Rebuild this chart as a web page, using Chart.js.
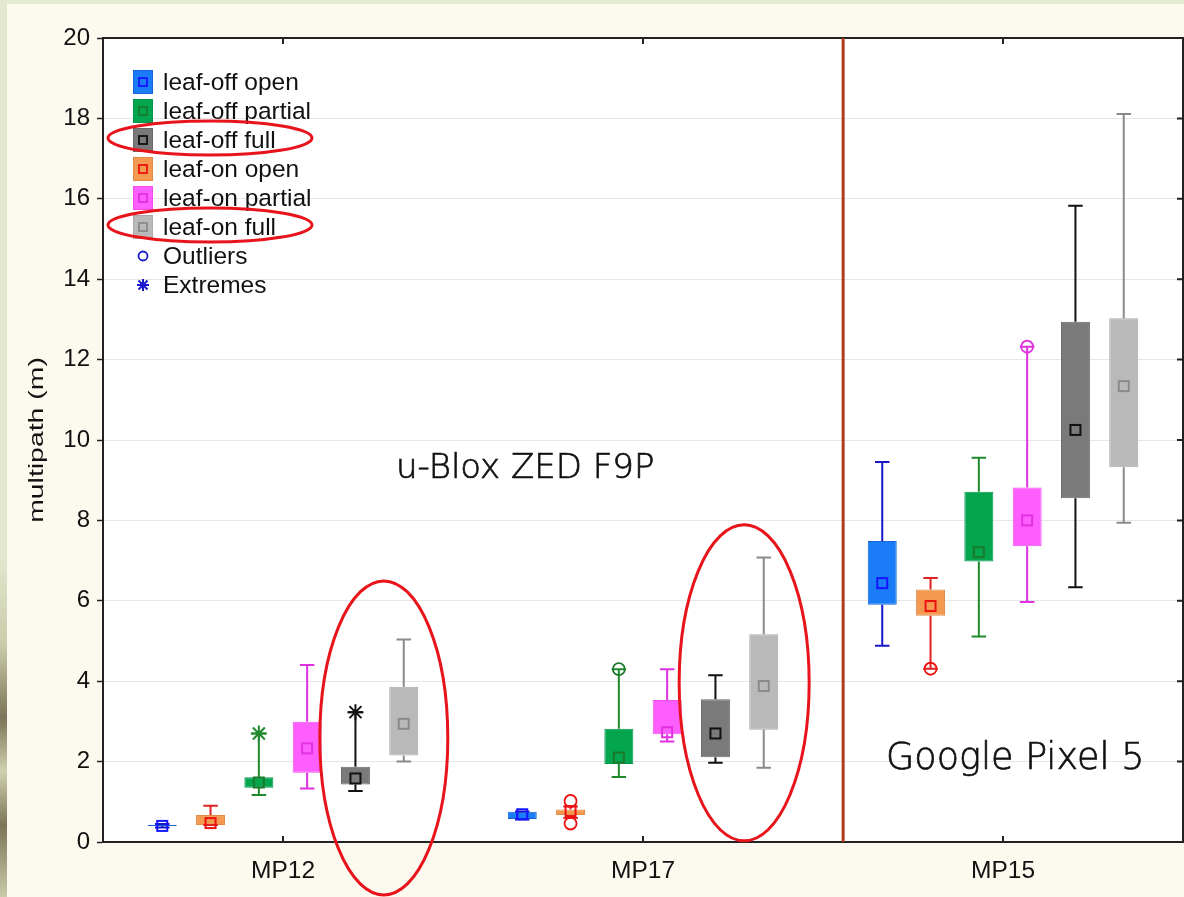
<!DOCTYPE html>
<html>
<head>
<meta charset="utf-8">
<title>multipath box plot</title>
<script src="https://cdn.jsdelivr.net/npm/chart.js@4.4.1/dist/chart.umd.min.js"></script>
<style>
  html, body { margin: 0; padding: 0; }
  body { width: 1184px; height: 897px; background: #fcf9ee; position: relative; overflow: hidden; }
  .edge-top { position: absolute; left: 0; top: 0; width: 1184px; height: 4px; background: #e4ead2; }
  .edge-left { position: absolute; left: 0; top: 0; width: 7px; height: 897px;
    background: linear-gradient(to bottom, #e2e8cf 0%, #e2e8cf 62%, #c9cba9 72%, #7c7458 80%, #cfd1ae 86%, #7c7458 92%, #c9cba9 100%); }
  canvas { position: absolute; left: 0; top: 0; }
</style>
</head>
<body>
<div class="edge-top"></div>
<div class="edge-left"></div>
<canvas id="boxChart" width="1184" height="897"></canvas>
<script>
// categories and series (left to right inside each group)
const categories = ['MP12', 'MP17', 'MP15'];
const seriesNames = ['leaf-off open', 'leaf-on open', 'leaf-off partial', 'leaf-on partial', 'leaf-off full', 'leaf-on full'];
const legendOrder = [0, 2, 4, 1, 3, 5]; // legend lists leaf-off first
const yTicks = [0, 2, 4, 6, 8, 10, 12, 14, 16, 18, 20];

// [min, q1, median, q3, max] per category
const leafOffOpen    = [[0.36, 0.40, 0.40, 0.42, 0.45], [0.56, 0.57, 0.69, 0.75, 0.76], [4.88, 5.90, 6.44, 7.49, 9.45]];
const leafOnOpen     = [[0.42, 0.42, 0.47, 0.67, 0.90], [0.60, 0.67, 0.77, 0.81, 0.88], [4.31, 5.63, 5.87, 6.28, 6.57]];
const leafOffPartial = [[1.17, 1.35, 1.48, 1.61, 2.70], [1.62, 1.94, 2.10, 2.82, 4.30], [5.11, 6.98, 7.21, 8.71, 9.56]];
const leafOnPartial  = [[1.33, 1.72, 2.33, 2.99, 4.40], [2.50, 2.68, 2.73, 3.53, 4.30], [5.97, 7.36, 8.00, 8.82, 12.32]];
const leafOffFull    = [[1.27, 1.43, 1.58, 1.87, 3.23], [1.97, 2.11, 2.70, 3.55, 4.15], [6.34, 8.55, 10.25, 12.94, 15.83]];
const leafOnFull     = [[2.00, 2.15, 2.94, 3.86, 5.04], [1.85, 2.79, 3.88, 5.17, 7.08], [7.94, 9.32, 11.34, 13.03, 18.11]];
const seriesStats = [leafOffOpen, leafOnOpen, leafOffPartial, leafOnPartial, leafOffFull, leafOnFull];

// [series, category, value]
const outlierPoints = [[1, 1, 1.02], [1, 1, 0.46], [2, 1, 4.30], [1, 2, 4.31], [3, 2, 12.32]];
const extremePoints = [[2, 0, 2.70], [4, 0, 3.23]];

// colours
const fillColors    = ['#1a7cf6', '#f39a50', '#03a64f', '#ff5eff', '#7a7a7a', '#b9b9b9'];
const borderColors  = ['#1466d8', '#e08a45', '#04944a', '#ee4cee', '#6a6a6a', '#a9a9a9'];
const whiskerColors = ['#1818c8', '#e02222', '#1f8a2c', '#e030e0', '#111111', '#8a8a8a'];
const markerColors  = ['#1515ff', '#ee1111', '#1a7a2a', '#e030e0', '#111111', '#8a8a8a'];

const FONT = '"Liberation Sans", Arial, sans-serif';
const yTitle = 'multipath (m)';

// annotations: [xValue (category units), yValue, text, font size] and ellipses [x, y, rx px, ry px]
const textMarks = [[0.673, 9.05, 'u-Blox ZED F9P', 34], [2.034, 1.82, 'Google Pixel 5', 36.5]];
const ellipseMarks = [[0.28, 2.59, 64, 157], [1.281, 3.96, 65, 158]];
const separatorAt = 1.556;
const highlightedLegend = ['leaf-off full', 'leaf-on full'];

function xAt(chart, v) {
  const x = chart.scales.x;
  const step = x.getPixelForValue(1) - x.getPixelForValue(0);
  const i = Math.floor(v);
  return x.getPixelForValue(i) + (v - i) * step;
}

function drawAsterisk(ctx, cx, cy, r) {
  ctx.beginPath();
  ctx.moveTo(cx - r, cy); ctx.lineTo(cx + r, cy);
  ctx.moveTo(cx, cy - r); ctx.lineTo(cx, cy + r);
  const d = r * 0.75;
  ctx.moveTo(cx - d, cy - d); ctx.lineTo(cx + d, cy + d);
  ctx.moveTo(cx - d, cy + d); ctx.lineTo(cx + d, cy - d);
  ctx.stroke();
}

const boxPlugin = {
  id: 'boxExtras',
  beforeDraw(chart) {
    const { ctx, chartArea: a } = chart;
    ctx.save();
    ctx.fillStyle = '#ffffff';
    ctx.fillRect(a.left, a.top, a.right - a.left, a.bottom - a.top);
    ctx.restore();
  },
  afterDatasetsDraw(chart) {
    const ctx = chart.ctx;
    const y = chart.scales.y;
    ctx.save();
    seriesStats.forEach((stats, s) => {
      const meta = chart.getDatasetMeta(s);
      meta.data.forEach((bar, c) => {
        const [lo, q1, med, q3, hi] = stats[c];
        const x = bar.x;
        const cap = bar.width * 0.25;
        ctx.strokeStyle = whiskerColors[s];
        ctx.lineWidth = 2;
        ctx.beginPath();
        ctx.moveTo(x, y.getPixelForValue(q3)); ctx.lineTo(x, y.getPixelForValue(hi));
        ctx.moveTo(x, y.getPixelForValue(q1)); ctx.lineTo(x, y.getPixelForValue(lo));
        ctx.moveTo(x - cap, y.getPixelForValue(hi)); ctx.lineTo(x + cap, y.getPixelForValue(hi));
        ctx.moveTo(x - cap, y.getPixelForValue(lo)); ctx.lineTo(x + cap, y.getPixelForValue(lo));
        ctx.stroke();
        ctx.strokeStyle = markerColors[s];
        ctx.strokeRect(x - 5, y.getPixelForValue(med) - 5, 10, 10);
      });
    });
    outlierPoints.forEach(([s, c, v]) => {
      const bar = chart.getDatasetMeta(s).data[c];
      ctx.strokeStyle = markerColors[s];
      ctx.lineWidth = 1.8;
      ctx.beginPath();
      ctx.arc(bar.x, y.getPixelForValue(v), 6, 0, Math.PI * 2);
      ctx.stroke();
    });
    extremePoints.forEach(([s, c, v]) => {
      const bar = chart.getDatasetMeta(s).data[c];
      ctx.strokeStyle = whiskerColors[s];
      ctx.lineWidth = 2;
      drawAsterisk(ctx, bar.x, y.getPixelForValue(v), 8);
    });
    ctx.restore();
  },
  afterDraw(chart) {
    const { ctx, chartArea: a } = chart;
    const y = chart.scales.y;
    ctx.save();
    // frame and inward ticks
    ctx.strokeStyle = '#222';
    ctx.lineWidth = 2;
    ctx.strokeRect(a.left, a.top, a.right - a.left, a.bottom - a.top);
    ctx.beginPath();
    categories.forEach((c, i) => {
      const px = chart.scales.x.getPixelForValue(i);
      ctx.moveTo(px, a.bottom); ctx.lineTo(px, a.bottom - 6);
      ctx.moveTo(px, a.top); ctx.lineTo(px, a.top + 6);
    });
    yTicks.forEach(t => {
      const py = y.getPixelForValue(t);
      ctx.moveTo(a.right, py); ctx.lineTo(a.right - 6, py);
    });
    ctx.stroke();

    // y axis title, drawn a little stretched like the original export
    ctx.save();
    ctx.translate(37, (a.top + a.bottom) / 2);
    ctx.rotate(-Math.PI / 2);
    ctx.scale(1.42, 1);
    ctx.fillStyle = '#111';
    ctx.font = '20px ' + FONT;
    ctx.textAlign = 'center';
    ctx.textBaseline = 'middle';
    ctx.fillText(yTitle, 0, 0);
    ctx.restore();

    // separator between receivers
    const sx = xAt(chart, separatorAt);
    ctx.strokeStyle = '#b03a1c';
    ctx.lineWidth = 3;
    ctx.beginPath();
    ctx.moveTo(sx, a.top); ctx.lineTo(sx, a.bottom);
    ctx.stroke();

    // receiver names
    ctx.fillStyle = '#111';
    ctx.strokeStyle = '#111';
    ctx.lineWidth = 0.7;
    ctx.textAlign = 'center';
    ctx.textBaseline = 'alphabetic';
    textMarks.forEach(([xv, yv, t, size]) => {
      ctx.font = '200 ' + size + 'px "DejaVu Sans", Lato, sans-serif';
      ctx.fillText(t, xAt(chart, xv), y.getPixelForValue(yv));
      ctx.strokeText(t, xAt(chart, xv), y.getPixelForValue(yv));
    });

    // legend inside the plot
    const lx = a.left + 30, ly = a.top + 44, row = 29;
    ctx.font = '24.5px ' + FONT;
    ctx.textAlign = 'left';
    ctx.textBaseline = 'middle';
    const rows = legendOrder.map(s => ({ s, label: seriesNames[s] }));
    rows.push({ s: -1, label: 'Outliers' }, { s: -2, label: 'Extremes' });
    rows.forEach((r, i) => {
      const cy = ly + i * row;
      if (r.s >= 0) {
        ctx.fillStyle = fillColors[r.s];
        ctx.fillRect(lx, cy - 12, 20, 24);
        ctx.strokeStyle = borderColors[r.s];
        ctx.lineWidth = 1;
        ctx.strokeRect(lx + 0.5, cy - 11.5, 19, 23);
        ctx.strokeStyle = markerColors[r.s];
        ctx.lineWidth = 1.8;
        ctx.strokeRect(lx + 6, cy - 4, 8, 8);
      } else if (r.s === -1) {
        ctx.strokeStyle = '#1a1acc';
        ctx.lineWidth = 1.8;
        ctx.beginPath();
        ctx.arc(lx + 10, cy, 4.5, 0, Math.PI * 2);
        ctx.stroke();
      } else {
        ctx.strokeStyle = '#1a1acc';
        ctx.lineWidth = 2;
        drawAsterisk(ctx, lx + 10, cy, 6);
      }
      ctx.fillStyle = '#111';
      ctx.fillText(r.label, lx + 30, cy + 1);
      if (highlightedLegend.includes(r.label)) {
        ctx.strokeStyle = '#e8141c';
        ctx.lineWidth = 3;
        ctx.beginPath();
        ctx.ellipse(lx + 77, cy - 2, 102, 17, 0, 0, Math.PI * 2);
        ctx.stroke();
      }
    });

    // highlight ellipses around the full-canopy boxes
    ctx.strokeStyle = '#e8141c';
    ctx.lineWidth = 3;
    ellipseMarks.forEach(([xv, yv, rx, ry]) => {
      ctx.beginPath();
      ctx.ellipse(xAt(chart, xv), y.getPixelForValue(yv), rx, ry, 0, 0, Math.PI * 2);
      ctx.stroke();
    });
    ctx.restore();
  }
};

new Chart(document.getElementById('boxChart'), {
  type: 'bar',
  data: {
    labels: categories,
    datasets: seriesNames.map((name, s) => ({
      label: name,
      data: seriesStats[s].map(st => [st[1], st[3]]),
      backgroundColor: fillColors[s],
      borderColor: borderColors[s],
      borderWidth: 1,
      borderSkipped: false,
      categoryPercentage: 0.805,
      barPercentage: 0.6,
    })),
  },
  options: {
    responsive: false,
    animation: false,
    layout: { padding: { top: 38, right: 1, left: 0, bottom: 0 } },
    plugins: {
      legend: { display: false },
      tooltip: { enabled: false },
    },
    scales: {
      x: {
        afterFit: scale => { scale.height = 55; },
        grid: { display: false },
        border: { display: true, color: '#222', width: 2 },
        ticks: { color: '#111', padding: 7, font: { family: FONT, size: 24.5 } },
      },
      y: {
        min: 0,
        max: 20,
        afterFit: scale => { scale.width = 103; },
        afterBuildTicks: scale => { scale.ticks = yTicks.map(v => ({ value: v })); },
        grid: { color: '#e6e6e6', lineWidth: 1, tickColor: '#222', tickLength: 6, tickWidth: 1.5 },
        border: { display: true, color: '#222', width: 2 },
        ticks: { color: '#111', padding: 7, font: { family: FONT, size: 24 } },
      },
    },
  },
  plugins: [boxPlugin],
});
</script>
</body>
</html>
